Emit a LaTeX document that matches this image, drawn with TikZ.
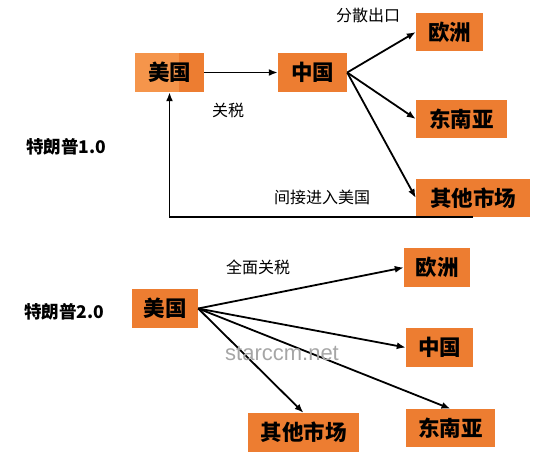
\documentclass[tikz,border=0pt]{standalone}
\usepackage{fontspec}
\usetikzlibrary{arrows.meta}
\setmainfont{Noto Sans CJK SC}
\newfontfamily\markfont{Liberation Sans}
\definecolor{boxorange}{HTML}{ED7D31}
\definecolor{lightorange}{HTML}{F5954B}

\begin{document}
\begin{tikzpicture}[x=1pt,y=-1pt,
	box/.style={fill=boxorange,inner sep=0,minimum height=39,font=\fontsize{21.5}{21.5}\selectfont\bfseries},
	lbl/.style={font=\fontsize{16}{16}\selectfont},
	era/.style={font=\fontsize{17.5}{17.5}\selectfont\bfseries},
	arr/.style={-{Latex[length=9pt,width=7pt]},line width=1.8pt}]

			\useasboundingbox (0,0) rectangle (538,461);

			% Trump 1.0
			\node[box,fill=lightorange,minimum width=69,
				path picture={\fill[boxorange] ([xshift=-25pt]path picture bounding box.north east) rectangle (path picture bounding box.south east);}]
				(us1) at (169.5,72.5) {美国};
			\node[box,minimum width=69] (cn1) at (312.5,72.5) {中国};
			\node[box,minimum width=67,minimum height=38] (eu1) at (449.5,32) {欧洲};
			\node[box,minimum width=91,minimum height=38] (sea1) at (461.5,119) {东南亚};
			\node[box,minimum width=114,minimum height=38] (oth1) at (473,198) {其他市场};

			\draw[arr] (us1) -- (cn1);
			\draw[arr] (cn1.east) -- (eu1.west);
			\draw[arr] (cn1.east) -- (sea1.west);
			\draw[arr] (cn1.east) -- (oth1.west);
			\draw[arr] (oth1.south) -- (oth1.south -| us1.south) -- (us1.south);

			\node[lbl] (spread) at (368,15) {分散出口};
			\node[lbl] (tariff1) at (228,110) {关税};
			\node[lbl] (back) at (322,197) {间接进入美国};
			\node[era] (t1) at (66,147) {特朗普1.0};

			% Trump 2.0
			\node[box,minimum width=66] (us2) at (165,308.5) {美国};
			\node[box,minimum width=66] (eu2) at (437,267.5) {欧洲};
			\node[box,minimum width=67] (cn2) at (439.5,347.5) {中国};
			\node[box,minimum width=89,minimum height=38] (sea2) at (450.5,428) {东南亚};
			\node[box,minimum width=111] (oth2) at (303.5,432.5) {其他市场};

			\draw[arr] (us2.east) -- (eu2.west);
			\draw[arr] (us2.east) -- (cn2.west);
			\draw[arr] (us2.east) -- (sea2.north);
			\draw[arr] (us2.east) -- (oth2.north);

			\node[lbl] (tariff2) at (258,267) {全面关税};
			\node[era] (t2) at (64,312) {特朗普2.0};
			\node[font=\markfont\fontsize{22}{22}\selectfont,text=black!35] (mark) at (282,353) {starccm.net};

		\end{tikzpicture}
\end{document}
